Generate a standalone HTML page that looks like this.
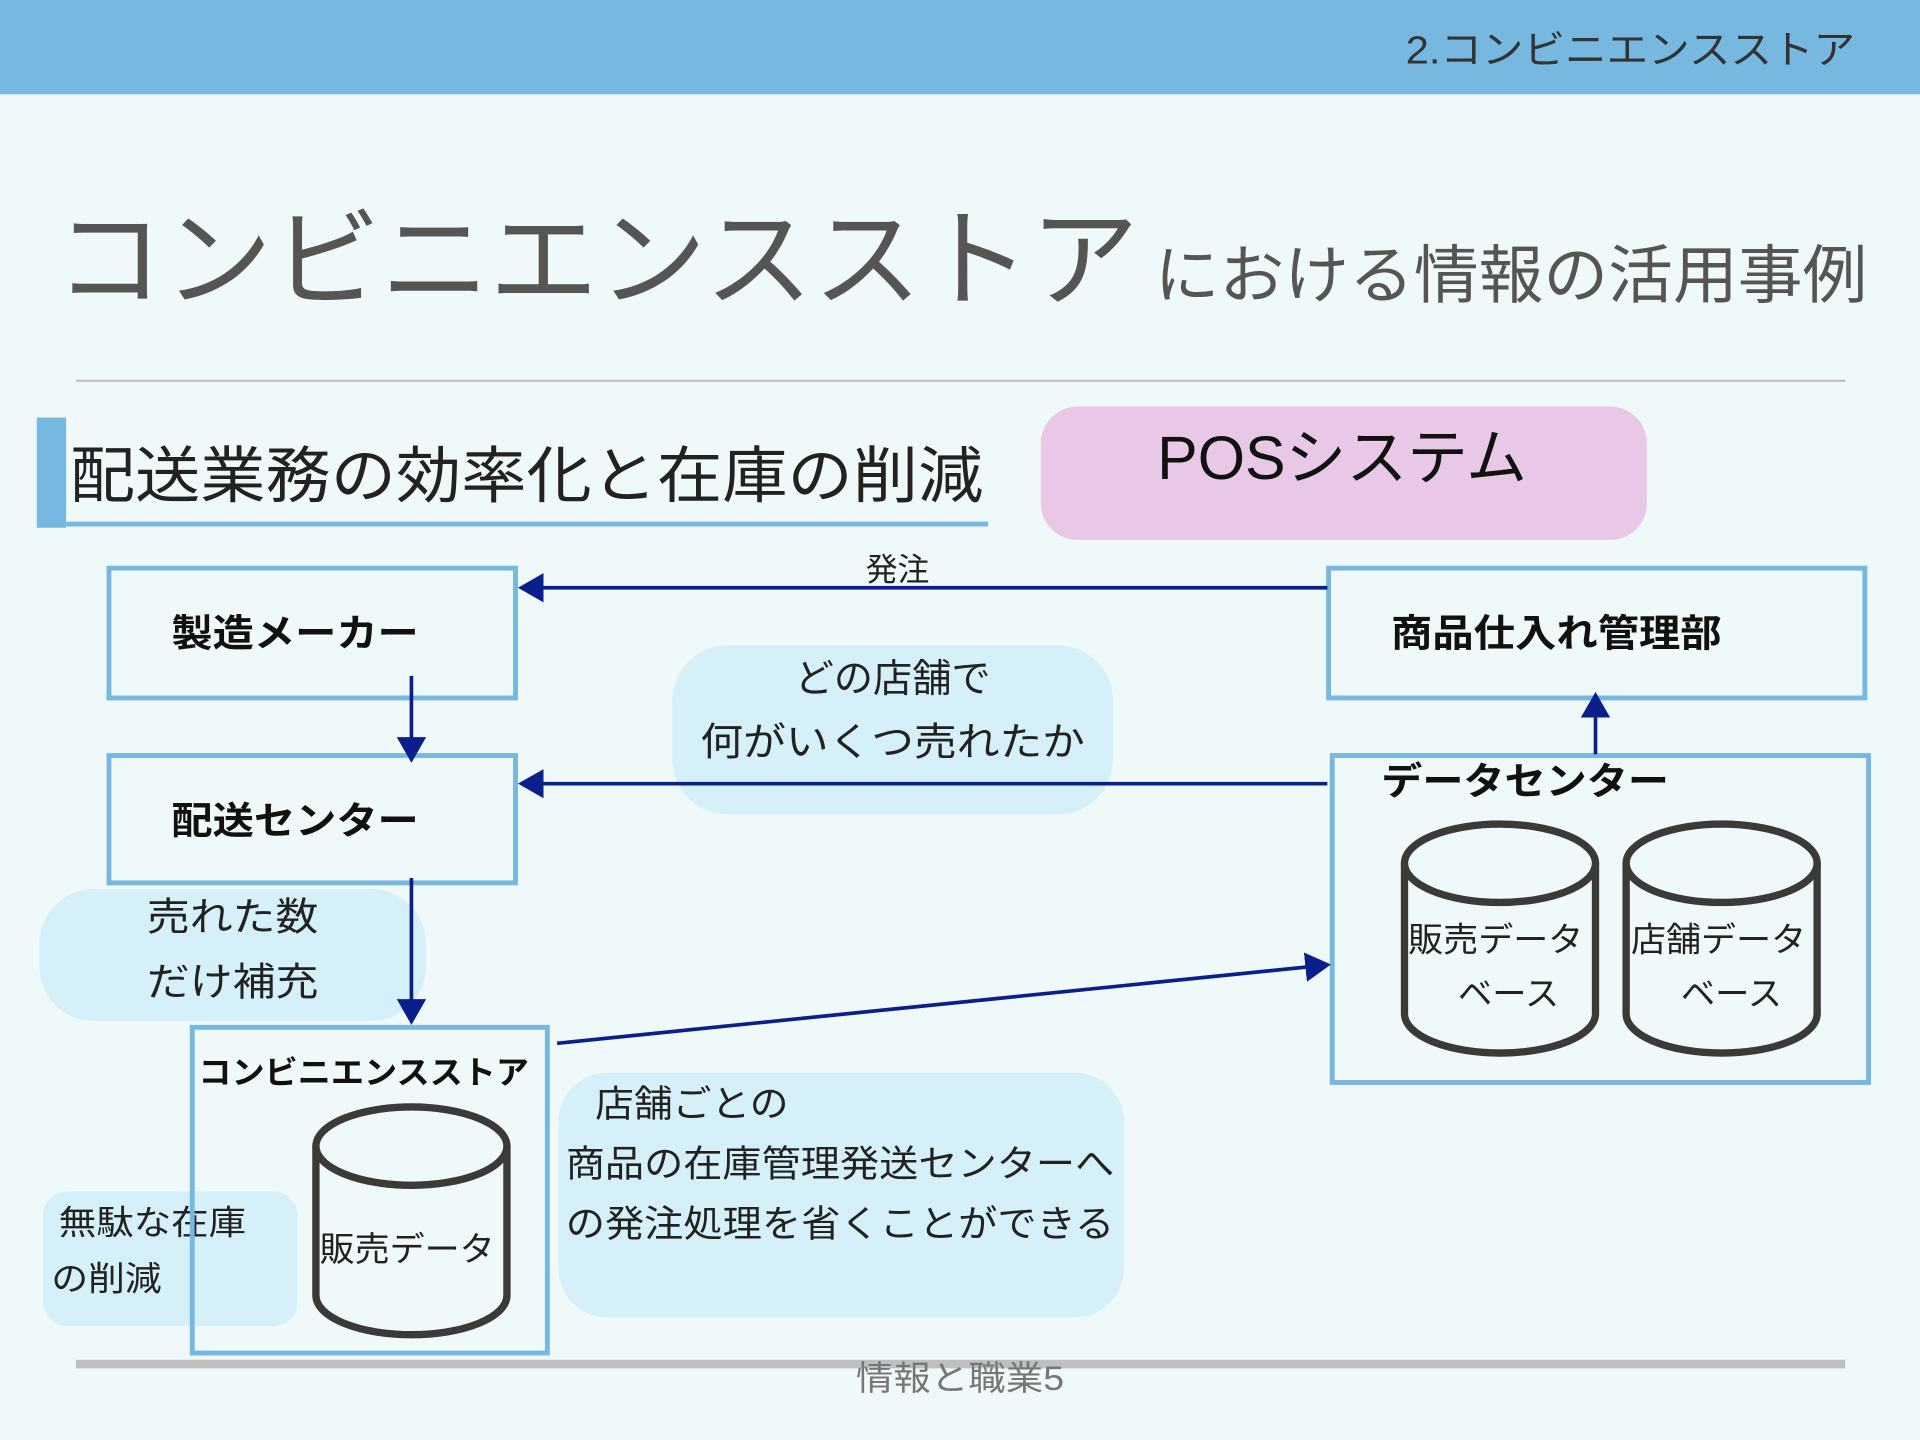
<!DOCTYPE html>
<html><head><meta charset="utf-8"><style>
html,body{margin:0;padding:0;background:#f0f9fa;}
svg{display:block;}
text{font-family:"Liberation Sans","Noto Sans CJK JP",sans-serif;}
</style></head><body>
<svg width="1920" height="1440" viewBox="0 0 1568 1176" preserveAspectRatio="none" xmlns="http://www.w3.org/2000/svg">
<defs>
<marker id="ah" markerWidth="8" markerHeight="8" refX="6" refY="4" orient="auto" markerUnits="strokeWidth"><path d="M0,0 L7,4 L0,8 z" fill="#0a1e8c"/></marker>
</defs>
<rect width="1568" height="1176" fill="#f0f9fa"/>
<rect x="0" y="0" width="1568" height="77" fill="#77b8e0"/>
<text x="1148" y="52" font-size="32" fill="#333" textLength="367" lengthAdjust="spacingAndGlyphs">2.コンビニエンスストア</text>
<text x="45" y="243" font-size="88" fill="#555" textLength="885" lengthAdjust="spacingAndGlyphs">コンビニエンスストア</text>
<text x="943" y="243" font-size="52" fill="#555" textLength="582" lengthAdjust="spacingAndGlyphs">における情報の活用事例</text>
<line x1="62" y1="311" x2="1507" y2="311" stroke="#c4c4c4" stroke-width="2"/>
<rect x="30" y="341" width="24" height="90" fill="#77b8e0"/>
<text x="57" y="406" font-size="50" fill="#222" textLength="746" lengthAdjust="spacingAndGlyphs">配送業務の効率化と在庫の削減</text>
<line x1="54" y1="428" x2="807" y2="428" stroke="#77b8e0" stroke-width="4"/>
<rect x="850" y="332" width="495" height="109" rx="30" fill="#e8c8e6"/>
<text x="945" y="391" font-size="50" fill="#111" textLength="302" lengthAdjust="spacingAndGlyphs">POSシステム</text>

<rect x="549" y="527" width="360" height="138" rx="45" fill="#d6f0fa"/>
<text x="729" y="565" font-size="32" fill="#222" text-anchor="middle">どの店舗で</text>
<text x="572" y="617" font-size="32" fill="#222" textLength="314" lengthAdjust="spacingAndGlyphs">何がいくつ売れたか</text>
<rect x="32" y="726" width="316" height="108" rx="45" fill="#d6f0fa"/>
<text x="120" y="760" font-size="32" fill="#222" textLength="140" lengthAdjust="spacingAndGlyphs">売れた数</text>
<text x="120" y="813" font-size="32" fill="#222" textLength="140" lengthAdjust="spacingAndGlyphs">だけ補充</text>
<rect x="35" y="973" width="208" height="110" rx="20" fill="#d6f0fa"/>
<text x="48" y="1008" font-size="28" fill="#222" textLength="153" lengthAdjust="spacingAndGlyphs">無駄な在庫</text>
<text x="42" y="1054" font-size="28" fill="#222" textLength="90" lengthAdjust="spacingAndGlyphs">の削減</text>
<rect x="456" y="876" width="462" height="200" rx="40" fill="#d6f0fa"/>
<text x="486" y="912" font-size="30" fill="#222" textLength="158" lengthAdjust="spacingAndGlyphs">店舗ごとの</text>
<text x="462" y="961" font-size="30" fill="#222" textLength="448" lengthAdjust="spacingAndGlyphs">商品の在庫管理発送センターへ</text>
<text x="462" y="1010" font-size="30" fill="#222" textLength="448" lengthAdjust="spacingAndGlyphs">の発注処理を省くことができる</text>

<g fill="none" stroke="#77b8e0" stroke-width="4">
<rect x="89" y="464" width="332" height="106"/>
<rect x="89" y="617" width="332" height="104"/>
<rect x="1085" y="464" width="438" height="106"/>
<rect x="1088" y="617" width="438" height="267"/>
<rect x="157" y="839" width="290" height="266"/>
</g>
<g font-size="31" font-weight="bold" fill="#111">
<text x="140" y="528" textLength="202" lengthAdjust="spacingAndGlyphs">製造メーカー</text>
<text x="140" y="681" textLength="202" lengthAdjust="spacingAndGlyphs">配送センター</text>
<text x="1136" y="528" textLength="270" lengthAdjust="spacingAndGlyphs">商品仕入れ管理部</text>
<text x="1128" y="649" textLength="235" lengthAdjust="spacingAndGlyphs">データセンター</text>
<text x="162" y="885" font-size="26" textLength="270" lengthAdjust="spacingAndGlyphs">コンビニエンスストア</text>
</g>

<g stroke="#0a1e8c" stroke-width="3" fill="none" marker-end="url(#ah)">
<line x1="1084" y1="480" x2="426" y2="480"/>
<line x1="1084" y1="640" x2="426" y2="640"/>
<line x1="336" y1="552" x2="336" y2="620"/>
<line x1="336" y1="717" x2="336" y2="834"/>
<line x1="455" y1="852" x2="1084" y2="788"/>
<line x1="1303" y1="616" x2="1303" y2="568"/>
</g>
<text x="733" y="474" font-size="26" fill="#222" text-anchor="middle">発注</text>

<g fill="#f0f9fa" stroke="#3a3a3a" stroke-width="6">
<path d="M258,936 L258,1058 A78,32 0 0 0 414,1058 L414,936"/>
<ellipse cx="336" cy="936" rx="78" ry="32"/>
<path d="M1147,705 L1147,828 A78,32 0 0 0 1303,828 L1303,705"/>
<ellipse cx="1225" cy="705" rx="78" ry="32"/>
<path d="M1328,705 L1328,828 A78,32 0 0 0 1484,828 L1484,705"/>
<ellipse cx="1406" cy="705" rx="78" ry="32"/>
</g>
<g font-size="28" fill="#222">
<text x="261" y="1030" textLength="143" lengthAdjust="spacingAndGlyphs">販売データ</text>
<text x="1150" y="777" textLength="143" lengthAdjust="spacingAndGlyphs">販売データ</text>
<text x="1232" y="821" text-anchor="middle">ベース</text>
<text x="1332" y="777" textLength="143" lengthAdjust="spacingAndGlyphs">店舗データ</text>
<text x="1414" y="821" text-anchor="middle">ベース</text>
</g>

<line x1="62" y1="1114" x2="1507" y2="1114" stroke="#bfbfbf" stroke-width="7"/>
<text x="784" y="1135" font-size="28" fill="#777" text-anchor="middle" textLength="170" lengthAdjust="spacingAndGlyphs">情報と職業5</text>
</svg>
</body></html>
